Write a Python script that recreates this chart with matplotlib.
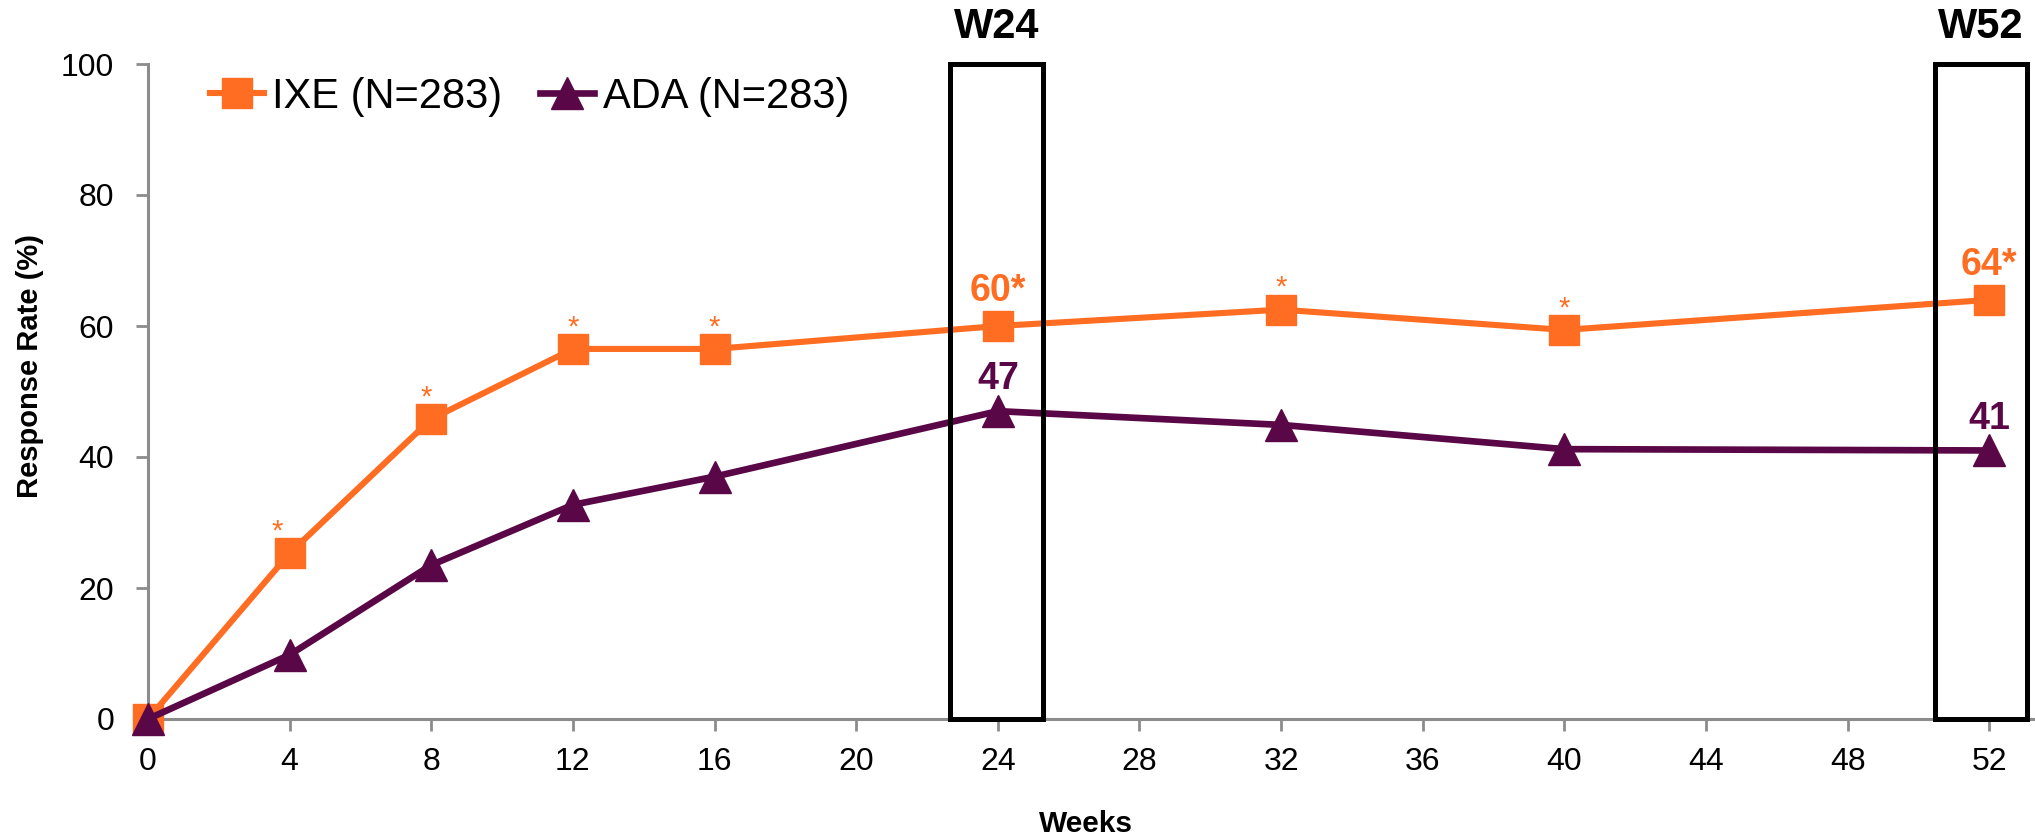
import matplotlib
matplotlib.use("Agg")
import matplotlib.pyplot as plt
from matplotlib.patches import Rectangle

plt.rcParams["font.family"] = ["Liberation Sans", "DejaVu Sans"]

# response rates by study week
weeks = [0, 4, 8, 12, 16, 24, 32, 40, 52]
ixe = [0, 25.3, 45.8, 56.5, 56.5, 60, 62.5, 59.4, 64]
ada = [0, 9.8, 23.5, 32.7, 37.0, 47, 44.9, 41.2, 41]
ixe_label = "IXE (N=283)"
ada_label = "ADA (N=283)"

# weeks where IXE vs ADA is significant (small asterisk above marker)
sig_weeks = [4, 8, 12, 16, 32, 40]
# weeks with highlighted boxes and value labels
key_weeks = [24, 52]
key_titles = ["W24", "W52"]
box_spans = [(22.65, 25.27), (50.46, 53.06)]

ORANGE = "#FF6D22"
PURPLE = "#5A0747"
GRAY = "#8C8C8C"

W, H = 2035, 840
fig = plt.figure(figsize=(W / 100, H / 100), dpi=100)
ax = fig.add_axes([148 / W, 1 - 719 / H, (W - 148) / W, (719 - 64) / H])

ax.plot(weeks, ixe, color=ORANGE, lw=4.4, marker="s", ms=21.5, mec=ORANGE,
        label=ixe_label, clip_on=False, zorder=4)
ax.plot(weeks, ada, color=PURPLE, lw=4.8, marker="^", ms=22.5, mec=PURPLE,
        label=ada_label, clip_on=False, zorder=5)

ax.set_xlim(0, 53.29)
ax.set_ylim(0, 100)
ax.set_xticks(range(0, 53, 4))
ax.set_yticks(range(0, 101, 20))
ax.tick_params(axis="both", which="major", direction="out", length=8.3, width=2,
               color=GRAY, labelsize=23)
ax.tick_params(axis="y", pad=16)
ax.tick_params(axis="x", pad=12)
for side in ("top", "right"):
    ax.spines[side].set_visible(False)
for side in ("left", "bottom"):
    ax.spines[side].set_color(GRAY)
    ax.spines[side].set_linewidth(2.2)

# significance asterisks
for w in sig_weeks:
    v = ixe[weeks.index(w)]
    dx = {4: -9, 8: -4}.get(w, 0)
    ax.annotate("*", (w, v), xytext=(dx, 5.5), textcoords="offset points",
                ha="center", va="bottom", color=ORANGE, fontsize=21)

# highlight boxes with value labels
for w, title, (x0, x1) in zip(key_weeks, key_titles, box_spans):
    ax.add_patch(Rectangle((x0, 0), x1 - x0, 100, fill=False, ec="black",
                           lw=3.6, clip_on=False, zorder=6))
    ax.text((x0 + x1) / 2, 105.6, title, ha="center", va="center",
            fontsize=30, fontweight="bold", color="black")
    i = weeks.index(w)
    ax.annotate(f"{ixe[i]:.0f}*", (w, ixe[i]), xytext=(0, 25),
                textcoords="offset points", ha="center", va="center",
                color=ORANGE, fontsize=27, fontweight="bold", zorder=7)
    ax.annotate(f"{ada[i]:.0f}", (w, ada[i]), xytext=(0, 23),
                textcoords="offset points", ha="center", va="center",
                color=PURPLE, fontsize=27, fontweight="bold", zorder=7)

ax.legend(loc="upper left", bbox_to_anchor=(210 / W, 1 - 77 / H),
          bbox_transform=fig.transFigure, ncol=2, frameon=False, fontsize=30,
          handlelength=1.3, handletextpad=0.2, columnspacing=0.9,
          borderpad=0, borderaxespad=0, numpoints=1)

fig.text(30 / W, 1 - 366 / H, "Response Rate (%)", rotation=90, ha="center",
         va="center", fontsize=21, fontweight="bold")
fig.text(1086 / W, 1 - 824 / H, "Weeks", ha="center", va="center",
         fontsize=21.5, fontweight="bold")

fig.savefig("out.png", dpi=100, facecolor="white")
